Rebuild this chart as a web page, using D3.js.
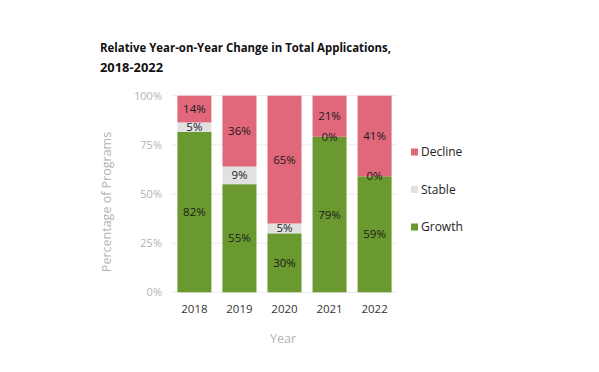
<!DOCTYPE html>
<html><head><meta charset="utf-8">
<script src="https://cdn.jsdelivr.net/npm/d3@7"></script>
<style>body{margin:0;background:#fff;} svg{display:block;font-family:"Open Sans",sans-serif;}</style>
</head><body>
<svg id="c" width="599" height="372"></svg>
<script>
const years = ["2018","2019","2020","2021","2022"];
const growth = [81.6, 55, 30, 79.1, 59];
const stable = [4.8, 9, 5, 0, 0];
const decline = [13.6, 36, 65, 20.9, 41];
const seriesNames = ["Growth","Stable","Decline"];
const colors = {Growth:"#6a9a2f", Stable:"#e1e1e1", Decline:"#e0687a"};
const yTicks = [0,25,50,75,100];

const svg = d3.select("#c");
const rows = years.map((y,i)=>({year:y, Growth:growth[i], Stable:stable[i], Decline:decline[i]}));
const stack = d3.stack().keys(seriesNames)(rows);

const x = d3.scaleBand().domain(years).range([172,397]).paddingInner(0.245).paddingOuter(0.12);
const y = d3.scaleLinear().domain([0,100]).range([292.3,95.7]);

// title
svg.append("text").attr("x",100).attr("y",52).attr("font-size",13).attr("font-weight",700).attr("fill","#111")
  .attr("textLength",291).attr("lengthAdjust","spacingAndGlyphs")
  .text("Relative Year-on-Year Change in Total Applications,");
svg.append("text").attr("x",100).attr("y",72).attr("font-size",13).attr("font-weight",700).attr("fill","#111")
  .attr("textLength",63).attr("lengthAdjust","spacingAndGlyphs")
  .text("2018-2022");

// grid
svg.append("g").selectAll("line").data(yTicks).join("line")
  .attr("x1",172).attr("x2",397).attr("y1",d=>y(d)).attr("y2",d=>y(d))
  .attr("stroke","#ececec").attr("stroke-width",1);

// y axis
const yAxis = svg.append("g").attr("transform","translate(162,0)")
  .call(d3.axisLeft(y).tickValues(yTicks).tickFormat(d=>d+"%").tickSize(0).tickPadding(0));
yAxis.select(".domain").remove();
yAxis.selectAll("text").attr("font-size",11).attr("fill","#b3b3b3").attr("font-family","Open Sans, sans-serif");

// x axis
const xAxis = svg.append("g").attr("transform","translate(0,301)")
  .call(d3.axisBottom(x).tickSize(0).tickPadding(4));
xAxis.select(".domain").remove();
xAxis.selectAll("text").attr("font-size",11.5).attr("fill","#333").attr("font-family","Open Sans, sans-serif");

// axis titles
svg.append("text").attr("transform","translate(111,202) rotate(-90)").attr("text-anchor","middle")
  .attr("font-size",12.5).attr("fill","#b3b3b3").text("Percentage of Programs");
svg.append("text").attr("x",283).attr("y",343).attr("text-anchor","middle")
  .attr("font-size",12.5).attr("fill","#b3b3b3").text("Year");

// bars
const layers = svg.append("g").selectAll("g").data(stack).join("g").attr("fill",d=>colors[d.key]);
layers.selectAll("rect").data(d=>d).join("rect")
  .attr("x",d=>x(d.data.year)).attr("width",x.bandwidth())
  .attr("y",d=>y(d[1])).attr("height",d=>y(d[0])-y(d[1]));

// labels
const lbl = svg.append("g");
stack.forEach(s=>{
  s.forEach(d=>{
    const v = d[1]-d[0];
    lbl.append("text").attr("x",x(d.data.year)+x.bandwidth()/2)
      .attr("y",y((d[0]+d[1])/2)).attr("dy","0.35em").attr("text-anchor","middle")
      .attr("font-size",11.5).attr("fill","#1a1a1a").text(Math.round(v)+"%");
  });
});

// legend
const legendItems = ["Decline","Stable","Growth"];
const lg = svg.append("g");
legendItems.forEach((k,i)=>{
  const cy = 152 + i*37.5;
  lg.append("rect").attr("x",411).attr("y",cy-3.5).attr("width",7).attr("height",7).attr("fill",colors[k]);
  lg.append("text").attr("x",421).attr("y",cy).attr("dy","0.35em").attr("font-size",12).attr("fill","#222").text(k);
});
</script>
</body></html>
